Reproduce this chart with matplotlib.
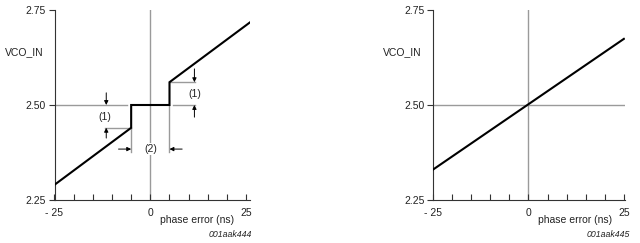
import matplotlib
matplotlib.use("Agg")
import matplotlib.pyplot as plt

plt.rcParams['font.family'] = ['Liberation Sans', 'DejaVu Sans']

# Data
step_x = [-25, -5, -5, 5, 5, 26]
step_y = [2.29, 2.44, 2.50, 2.50, 2.56, 2.7175]
lin_x = [-25, 25]
lin_y = [2.33, 2.674]
yticks = [2.25, 2.50, 2.75]
ytick_labels = ["2.25", "2.50", "2.75"]
xticks_minor = [-25, -20, -15, -10, -5, 0, 5, 10, 15, 20, 25]
xtick_text = {-25: "- 25", 0: "0", 25: "25"}

GRAY = '#9a9a9a'
TXT = '#222222'
FS = 7.5

fig = plt.figure(figsize=(6.4, 2.43), dpi=100)
ax1 = fig.add_axes([54.5/640, 43/243, 195.5/640, 190/243])
ax2 = fig.add_axes([433/640, 43/243, 192/640, 190/243])


def style(ax, xlim, ref):
    ax.set_xlim(*xlim)
    ax.set_ylim(2.25, 2.75)
    for s in ['top', 'right']:
        ax.spines[s].set_visible(False)
    for s in ['left', 'bottom']:
        ax.spines[s].set_color('#333333')
        ax.spines[s].set_linewidth(0.8)
    ax.set_yticks(yticks)
    ax.set_yticklabels(ytick_labels)
    ax.set_xticks(xticks_minor)
    ax.set_xticklabels([xtick_text.get(v, "") for v in xticks_minor])
    ax.tick_params(axis='x', direction='in', length=4, width=0.8, color='#333333', pad=6, labelsize=FS, labelcolor=TXT)
    ax.tick_params(axis='y', direction='out', length=4, width=0.8, color='#333333', pad=2, labelsize=FS, labelcolor=TXT)
    ax.text(-33, 2.639, "VCO_IN", ha='center', va='center', fontsize=FS, color=TXT, clip_on=False)
    ax.text(12.3, 2.197, "phase error (ns)", ha='center', va='center', fontsize=FS, color=TXT, clip_on=False)
    ax.text(26.5, 2.158, ref, ha='right', va='center', fontsize=6.3, color=TXT, style='italic', clip_on=False)


style(ax1, (-25, 26), "001aak444")
style(ax2, (-25, 25.3), "001aak445")

# Left chart: reference lines
ax1.plot([0, 0], [2.25, 2.75], color=GRAY, lw=1.0, zorder=1)
ax1.plot([-25, -6.2], [2.50, 2.50], color=GRAY, lw=1.0, zorder=1)
ax1.plot([5.9, 11.7], [2.50, 2.50], color=GRAY, lw=1.0, zorder=1)
ax1.plot([5.2, 11.7], [2.56, 2.56], color=GRAY, lw=1.0, zorder=1)
ax1.plot([-11.7, -5], [2.44, 2.44], color=GRAY, lw=1.0, zorder=1)
ax1.plot([-5, -5], [2.44, 2.376], color=GRAY, lw=1.0, zorder=1)
ax1.plot([5, 5], [2.50, 2.376], color=GRAY, lw=1.0, zorder=1)

ax1.plot(step_x, step_y, color='black', lw=1.5, zorder=3, solid_joinstyle='miter')

arr = dict(arrowstyle='-|>', color='black', lw=0.7, mutation_scale=6, shrinkA=0, shrinkB=0)
ax1.annotate('', xy=(-11.5, 2.50), xytext=(-11.5, 2.532), arrowprops=arr)
ax1.annotate('', xy=(-11.5, 2.44), xytext=(-11.5, 2.413), arrowprops=arr)
ax1.annotate('', xy=(11.5, 2.56), xytext=(11.5, 2.595), arrowprops=arr)
ax1.annotate('', xy=(11.5, 2.50), xytext=(11.5, 2.468), arrowprops=arr)
ax1.annotate('', xy=(-5, 2.384), xytext=(-8.3, 2.384), arrowprops=arr)
ax1.annotate('', xy=(5, 2.384), xytext=(8.3, 2.384), arrowprops=arr)

ax1.text(-12, 2.468, "(1)", ha='center', va='center', fontsize=FS, color=TXT)
ax1.text(11.5, 2.529, "(1)", ha='center', va='center', fontsize=FS, color=TXT)
ax1.text(0, 2.384, "(2)", ha='center', va='center', fontsize=FS, color=TXT, zorder=4,
         bbox=dict(facecolor='white', edgecolor='none', pad=1.0))

# Right chart
ax2.plot([0, 0], [2.25, 2.75], color=GRAY, lw=1.0, zorder=1)
ax2.plot([-25, 25], [2.50, 2.50], color=GRAY, lw=1.0, zorder=1)
ax2.plot(lin_x, lin_y, color='black', lw=1.5, zorder=3)

fig.savefig("out.png", dpi=100)
